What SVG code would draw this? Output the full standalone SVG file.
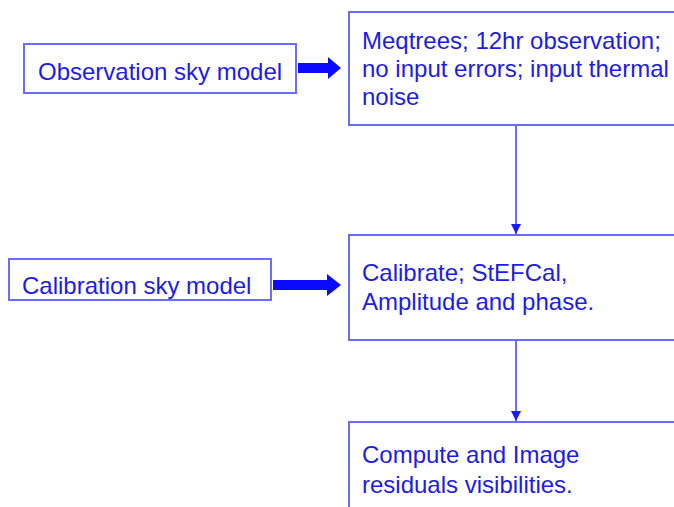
<svg xmlns="http://www.w3.org/2000/svg" width="674" height="507" viewBox="0 0 674 507">
<style>
.box{fill:#fff;stroke:#6b6bff;stroke-width:2}
.t{font-family:"Liberation Sans",Arial,sans-serif;font-size:24px;fill:#1c1ce8}
.fat{fill:#0a0aff}
.thin{stroke:#6b6bff;stroke-width:2;fill:none}
</style>
<defs>
<marker id="ah" markerWidth="10" markerHeight="10" refX="10" refY="5" orient="auto" markerUnits="userSpaceOnUse" viewBox="0 0 10 10">
<path d="M0,0 L10,5 L0,10 Z" fill="#1a1aff"/>
</marker>
</defs>
<rect width="674" height="507" fill="#fff"/>
<g id="connectors">
<path class="fat" d="M298,63 H328 V57 L341,68 L328,79 V73 H298 Z"/>
<path class="fat" d="M273,280 H327 V274 L341,285 L327,296 V290 H273 Z"/>
<line class="thin" x1="516" y1="125" x2="516" y2="234" marker-end="url(#ah)"/>
<line class="thin" x1="516" y1="340" x2="516" y2="421" marker-end="url(#ah)"/>
</g>
<g id="obs">
<rect class="box" x="24" y="44" width="272" height="49"/>
<text class="t" x="38" y="80">Observation sky model</text>
</g>
<g id="meq">
<rect class="box" x="349" y="12" width="335" height="113"/>
<text class="t" x="362" y="49">Meqtrees; 12hr observation;</text>
<text class="t" x="362" y="77">no input errors; input thermal</text>
<text class="t" x="362" y="105">noise</text>
</g>
<g id="cal">
<rect class="box" x="9" y="259" width="262" height="41"/>
<text class="t" x="22" y="294">Calibration sky model</text>
</g>
<g id="calib">
<rect class="box" x="349" y="235" width="335" height="105"/>
<text class="t" x="362" y="281">Calibrate; StEFCal,</text>
<text class="t" x="362" y="310">Amplitude and phase.</text>
</g>
<g id="compute">
<rect class="box" x="349" y="422" width="335" height="100"/>
<text class="t" x="362" y="463">Compute and Image</text>
<text class="t" x="362" y="493">residuals visibilities.</text>
</g>
</svg>
